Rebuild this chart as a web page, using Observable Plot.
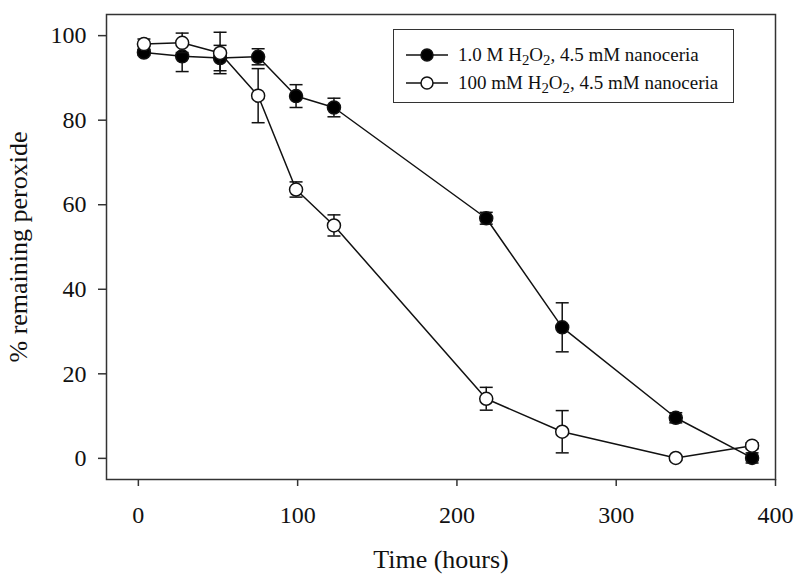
<!DOCTYPE html>
<html>
<head>
<meta charset="utf-8">
<script src="https://cdn.jsdelivr.net/npm/d3@7"></script>
<script src="https://cdn.jsdelivr.net/npm/@observablehq/plot@0.6"></script>
<style>
  body { margin: 0; background: #fff; }
  #wrap { position: relative; width: 800px; height: 579px; font-family: "Liberation Serif", "Times New Roman", serif; }
  #legend { position: absolute; left: 393px; top: 29px; width: 341px; height: 74px; border: 1.5px solid #333; box-sizing: border-box; background: #fff; font-size: 19px; color: #111; }
  .row { position: absolute; left: 12px; display: flex; align-items: center; height: 22px; white-space: nowrap; }
  .row svg { margin-right: 10px; }
  sub { font-size: 0.78em; vertical-align: -0.3em; line-height: 0; }
</style>
</head>
<body>
<div id="wrap">
  <div id="chart"></div>
  <div id="legend"></div>
</div>
<script>
// Time (hours)
const times = [3.5, 27.5, 51.3, 75.2, 99, 122.8, 218.4, 266.1, 337.4, 385.3];
// 1.0 M H2O2, 4.5 mM nanoceria (filled)
const highValues = [96.0, 95.1, 94.7, 95.0, 85.7, 83.0, 56.8, 31.0, 9.6, 0.1];
const highErrors = [0.7, 3.6, 3.0, 1.9, 2.7, 2.2, 1.4, 5.8, 1.2, 1.2];
// 100 mM H2O2, 4.5 mM nanoceria (open)
const lowValues = [98.0, 98.3, 95.9, 85.8, 63.6, 55.1, 14.1, 6.3, 0.1, 3.0];
const lowErrors = [1.2, 2.3, 4.9, 6.4, 1.8, 2.5, 2.7, 5.0, 0.5, 0.7];

const xTicks = [0, 100, 200, 300, 400];
const yTicks = [0, 20, 40, 60, 80, 100];

const seriesNames = ["1.0 M H2O2, 4.5 mM nanoceria", "100 mM H2O2, 4.5 mM nanoceria"];
const seriesFill = ["#000", "#fff"];

const high = times.map((t, i) => ({t, v: highValues[i], e: highErrors[i]}));
const low = times.map((t, i) => ({t, v: lowValues[i], e: lowErrors[i]}));

// horizontal cap symbol for error bars
const capSymbol = {
  draw(ctx, size) {
    const r = Math.sqrt(size / Math.PI);
    ctx.moveTo(-r, 0);
    ctx.lineTo(r, 0);
  }
};

function seriesMarks(data, fill) {
  return [
    Plot.ruleX(data, {x: "t", y1: d => d.v - d.e, y2: d => d.v + d.e, stroke: "#111", strokeWidth: 1.5}),
    Plot.dot(data, {x: "t", y: d => d.v - d.e, symbol: capSymbol, r: 6.5, stroke: "#111", strokeWidth: 1.5, fill: "none"}),
    Plot.dot(data, {x: "t", y: d => d.v + d.e, symbol: capSymbol, r: 6.5, stroke: "#111", strokeWidth: 1.5, fill: "none"}),
    Plot.line(data, {x: "t", y: "v", stroke: "#111", strokeWidth: 1.5}),
    Plot.dot(data, {x: "t", y: "v", r: 6.5, fill, stroke: "#111", strokeWidth: 1.5})
  ];
}

const chart = Plot.plot({
  width: 800,
  height: 579,
  marginLeft: 106,
  marginRight: 25,
  marginTop: 14,
  marginBottom: 100,
  style: {fontFamily: "'Liberation Serif', 'Times New Roman', serif", fontSize: "24px", color: "#111", background: "#fff"},
  x: {domain: [-20, 400]},
  y: {domain: [-5, 105]},
  marks: [
    Plot.frame({stroke: "#333", strokeWidth: 1.5}),
    Plot.axisX({ticks: xTicks, tickSize: 7, tickPadding: 19, stroke: "#333", strokeWidth: 1.5, fontSize: 24,
      label: null}),
    Plot.axisX({ticks: [], label: "Time (hours)", labelArrow: "none", labelAnchor: "center", labelOffset: 88, fontSize: 26}),
    Plot.axisY({ticks: yTicks, tickSize: 8, tickPadding: 12, stroke: "#333", strokeWidth: 1.5, fontSize: 24,
      label: null}),
    Plot.axisY({ticks: [], label: "% remaining peroxide", labelArrow: "none", labelAnchor: "center", labelOffset: 98, fontSize: 26}),
    ...seriesMarks(high, seriesFill[0]),
    ...seriesMarks(low, seriesFill[1])
  ]
});
document.getElementById("chart").appendChild(chart);

// legend
const legend = document.getElementById("legend");
const tops = [14, 42];
seriesNames.forEach((name, i) => {
  const row = document.createElement("div");
  row.className = "row";
  row.style.top = tops[i] + "px";
  row.innerHTML = `<svg width="42" height="16"><line x1="0" y1="8" x2="42" y2="8" stroke="#111" stroke-width="1.5"/><circle cx="21" cy="8" r="6" fill="${seriesFill[i]}" stroke="#111" stroke-width="1.5"/></svg>` +
    `<span>${name.replace(/H2O2/, "H<sub>2</sub>O<sub>2</sub>")}</span>`;
  legend.appendChild(row);
});
</script>
</body>
</html>
